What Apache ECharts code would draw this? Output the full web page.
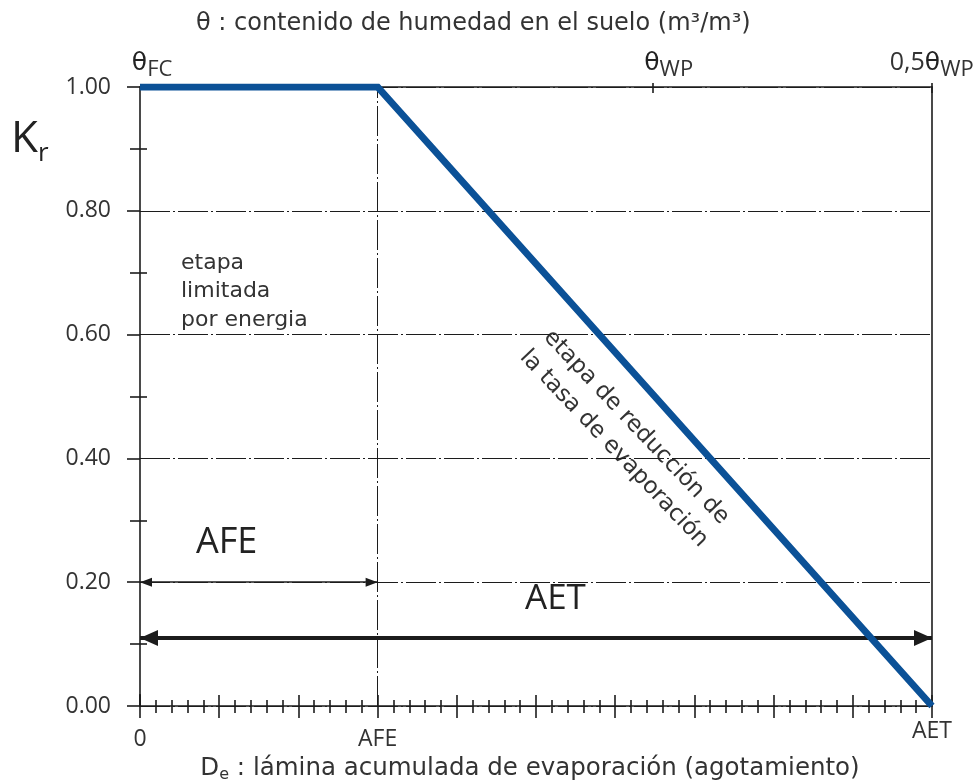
<!DOCTYPE html>
<html>
<head>
<meta charset="utf-8">
<script src="https://cdn.jsdelivr.net/npm/echarts@6/dist/echarts.min.js"></script>
<style>
  html, body { margin: 0; padding: 0; background: #ffffff; }
  #chart { width: 976px; height: 783px; }
</style>
</head>
<body>
<div id="chart"></div>
<script>
// Coeficiente de reducción de la evaporación Kr en función del agotamiento De
const depletion = [0, 3, 10];            // De: 0, AFE, AET
const krValues = [1.0, 1.0, 0.0];        // Kr en cada punto

// Ejes
const yTickValues = [0, 0.2, 0.4, 0.6, 0.8, 1.0];
const yMinorValues = [0.1, 0.3, 0.5, 0.7, 0.9];
const xTickValues = [0, 3, 10];
const xTickLabels = ['0', 'AFE', 'AET'];
const thetaTickValues = [0, 6.47, 10];
const thetaTickPrefix = ['', '', '0,5'];
const thetaTickSub = ['FC', 'WP', 'WP'];

// Rangos acotados con flechas
const afeArrowRange = [0, 3];
const afeArrowKr = 0.2;
const aetArrowRange = [0, 10];
const aetArrowKr = 0.11;

const FONT = 'Open Sans';
const WIDE = 'DejaVu Sans';
const INK = '#1c1c1c';
const TEXT = '#333333';
const BLUE = '#0b5197';
const DASHDOT = [30, 3, 2, 3];

const THETA_SIZE = 25, THETA_PRE = 25, THETA_SUB = 22;

// Ancho de texto para centrar la θ sobre su marca
const measureCtx = document.createElement('canvas').getContext('2d');
function textWidth(str, size, family) {
  measureCtx.font = size + 'px "' + (family || FONT) + '"';
  return measureCtx.measureText(str).width;
}

const xMin = 0, xMax = 10;

// Marcas del eje inferior (exteriores e interiores)
const bottomMinorInside = [];
for (let i = 0; i <= 50; i++) {
  if (i % 5 !== 0) bottomMinorInside.push(i / 5);
}
const bottomMajorInside = [];
for (let i = xMin; i <= xMax; i++) bottomMajorInside.push(i);

const chart = echarts.init(document.getElementById('chart'), null, { renderer: 'canvas' });

const baseX = {
  type: 'value', min: xMin, max: xMax, gridIndex: 0,
  splitLine: { show: false }, axisLabel: { show: false },
  axisLine: { show: false }, axisTick: { show: false }
};
const baseY = {
  type: 'value', min: 0, max: 1, interval: 0.2, gridIndex: 0,
  splitLine: { show: false }, axisLabel: { show: false },
  axisLine: { show: false }, axisTick: { show: false }
};
const axisStroke = { color: INK, width: 1.6 };

// Estilos enriquecidos de las etiquetas θ (θ centrada sobre su marca)
const thetaRich = {
  p: { fontFamily: FONT, fontSize: THETA_PRE, color: TEXT },
  t: { fontFamily: WIDE, fontSize: THETA_SIZE, color: '#222' },
  s: { fontFamily: FONT, fontSize: THETA_SUB, color: TEXT, padding: [14, 0, 0, 0] }
};
function thetaLabel(v) {
  const i = thetaTickValues.indexOf(v);
  const pre = textWidth(thetaTickPrefix[i], THETA_PRE);
  const sub = textWidth(thetaTickSub[i], THETA_SUB);
  const key = 'g' + i;
  thetaRich[key + 'l'] = { width: Math.max(1, sub - pre), fontSize: 1 };
  thetaRich[key + 'r'] = { width: Math.max(1, pre - sub), fontSize: 1 };
  return '{' + key + 'l|\u00a0}' + (thetaTickPrefix[i] ? '{p|' + thetaTickPrefix[i] + '}' : '') +
         '{t|θ}{s|' + thetaTickSub[i] + '}{' + key + 'r|\u00a0}';
}
thetaTickValues.forEach(thetaLabel);

const option = {
  animation: false,
  backgroundColor: '#ffffff',
  title: {
    text: 'θ : contenido de humedad en el suelo (m³/m³)',
    left: 191, top: 7,
    textStyle: { fontFamily: WIDE, fontSize: 24, fontWeight: 'normal', color: TEXT }
  },
  grid: { left: 140, right: 44, top: 87, bottom: 77, containLabel: false, outerBoundsMode: 'none' },
  xAxis: [
    Object.assign({}, baseX, {
      position: 'bottom', interval: 1,
      axisLine: { show: true, onZero: false, lineStyle: axisStroke },
      axisTick: { show: true, length: 12, lineStyle: axisStroke },
      minorTick: { show: true, splitNumber: 5, length: 7, lineStyle: axisStroke },
      axisLabel: {
        show: true, margin: 14, customValues: xTickValues,
        fontFamily: FONT, fontSize: 23, color: TEXT,
        formatter: v => {
          const txt = xTickLabels[xTickValues.indexOf(v)];
          return v === xMax ? '{hi|' + txt + '}' : '{lo|' + txt + '}';
        },
        rich: {
          hi: { fontFamily: FONT, fontSize: 23, color: TEXT },
          lo: { fontFamily: FONT, fontSize: 23, color: TEXT, padding: [8, 0, 0, 0] }
        }
      },
      name: '{m|D}{s|e}{m| : lámina acumulada de evaporación (agotamiento)}',
      nameLocation: 'middle', nameGap: 47,
      nameTextStyle: {
        fontFamily: WIDE, color: TEXT, padding: [0, 12, 0, 0],
        rich: {
          m: { fontFamily: WIDE, fontSize: 24.5, color: TEXT },
          s: { fontFamily: WIDE, fontSize: 16, color: TEXT, padding: [13, 0, 0, 0] }
        }
      }
    }),
    Object.assign({}, baseX, {
      position: 'bottom',
      axisTick: { show: true, inside: true, length: 11, customValues: bottomMajorInside, lineStyle: axisStroke }
    }),
    Object.assign({}, baseX, {
      position: 'bottom',
      axisTick: { show: true, inside: true, length: 6, customValues: bottomMinorInside, lineStyle: axisStroke }
    }),
    Object.assign({}, baseX, {
      position: 'top',
      axisLine: { show: true, onZero: false, lineStyle: axisStroke },
      axisTick: { show: true, inside: true, length: 6, customValues: thetaTickValues.slice(1), lineStyle: axisStroke },
      axisLabel: {
        show: true, margin: 6, customValues: thetaTickValues,
        formatter: thetaLabel, rich: thetaRich
      }
    }),
    Object.assign({}, baseX, {
      position: 'top',
      axisTick: { show: true, length: 12, customValues: [thetaTickValues[0]], lineStyle: axisStroke }
    }),
    Object.assign({}, baseX, {
      position: 'top',
      axisTick: { show: true, length: 4, customValues: thetaTickValues.slice(1), lineStyle: axisStroke }
    })
  ],
  yAxis: [
    Object.assign({}, baseY, {
      position: 'left',
      axisLine: { show: true, onZero: false, lineStyle: axisStroke },
      axisTick: { show: true, length: 13, lineStyle: axisStroke },
      minorTick: { show: true, splitNumber: 2, length: 10, lineStyle: axisStroke },
      axisLabel: {
        show: true, margin: 29, customValues: yTickValues,
        fontFamily: FONT, fontSize: 23, color: TEXT,
        formatter: v => v.toFixed(2)
      },
      splitLine: { show: true, lineStyle: { color: INK, width: 1, type: DASHDOT } }
    }),
    Object.assign({}, baseY, {
      position: 'left',
      axisTick: { show: true, inside: true, length: 7, customValues: yMinorValues, lineStyle: axisStroke }
    }),
    Object.assign({}, baseY, {
      position: 'right',
      axisLine: { show: true, onZero: false, lineStyle: axisStroke }
    })
  ],
  series: [
    {
      // cotas y línea vertical en AFE
      type: 'line', xAxisIndex: 0, yAxisIndex: 0, data: [], z: 3,
      silent: true,
      markLine: {
        silent: true, animation: false, z: 3,
        symbol: ['none', 'none'],
        label: { show: false },
        emphasis: { disabled: true },
        data: [
          {
            xAxis: depletion[1],
            lineStyle: { color: INK, width: 1, type: DASHDOT }
          },
          [
            { coord: [afeArrowRange[0], afeArrowKr], symbol: 'triangle', symbolSize: [9, 12], symbolOffset: [0, '50%'] },
            { coord: [afeArrowRange[1], afeArrowKr], symbol: 'triangle', symbolSize: [9, 12], symbolOffset: [0, '50%'],
              lineStyle: { color: INK, width: 1.5, type: 'solid' } }
          ],
          [
            { coord: [aetArrowRange[0], aetArrowKr], symbol: 'triangle', symbolSize: [16, 18], symbolOffset: [0, '50%'] },
            { coord: [aetArrowRange[1], aetArrowKr], symbol: 'triangle', symbolSize: [16, 18], symbolOffset: [0, '50%'],
              lineStyle: { color: INK, width: 4, type: 'solid' } }
          ]
        ]
      }
    },
    {
      // curva Kr
      type: 'line', xAxisIndex: 0, yAxisIndex: 0, z: 10,
      data: depletion.map((d, i) => [d, krValues[i]]),
      symbol: 'none', silent: true,
      lineStyle: { color: BLUE, width: 7, cap: 'butt', join: 'miter' }
    }
  ],
  graphic: [
    {
      type: 'text', left: 11, top: 117, silent: true,
      style: {
        text: '{k|K}{r|r}',
        rich: {
          k: { fontFamily: FONT, fontSize: 44, fill: '#222' },
          r: { fontFamily: FONT, fontSize: 26, fill: '#222', padding: [30, 0, 0, 0] }
        }
      }
    },
    {
      type: 'text', left: 181, top: 249, silent: true,
      style: {
        text: 'etapa\nlimitada\npor energia',
        font: '22px "' + WIDE + '"', fill: TEXT, lineHeight: 28.5
      }
    },
    {
      type: 'text', left: 196, top: 525, silent: true,
      style: { text: 'AFE', font: '36px "' + FONT + '"', fill: '#222' }
    },
    {
      type: 'text', left: 525, top: 582, silent: true,
      style: { text: 'AET', font: '35px "' + FONT + '"', fill: '#222' }
    },
    {
      type: 'text', x: 625, y: 438, rotation: -46.5 * Math.PI / 180, silent: true,
      style: {
        text: 'etapa de reducción de\nla tasa de evaporación',
        font: '23px "' + WIDE + '"', fill: TEXT, lineHeight: 31,
        align: 'center', verticalAlign: 'middle'
      }
    }
  ]
};

chart.setOption(option);
</script>
</body>
</html>
